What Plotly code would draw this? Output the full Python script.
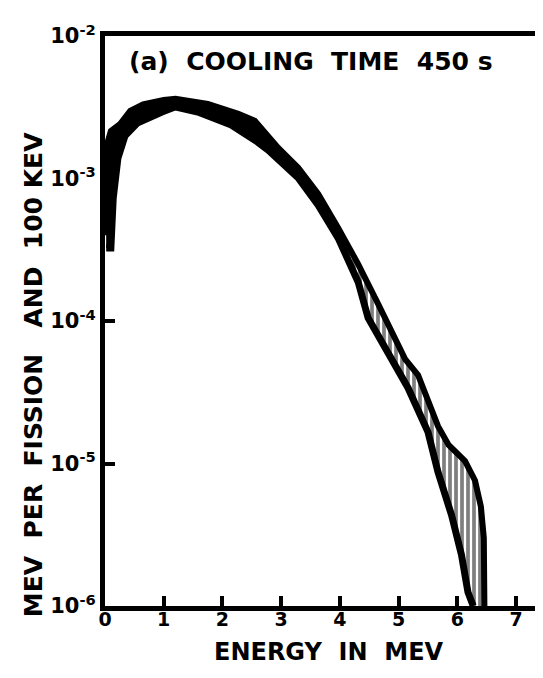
import plotly.graph_objects as go

# Upper (solid) curve: energy (MeV) and MeV per fission and 100 keV
upper_E = [0.02, 0.05, 0.10, 0.26, 0.43, 0.65, 1.00, 1.20, 1.75, 2.27, 2.55, 2.95, 3.29, 3.63,
           3.97, 4.31, 4.65, 5.11, 5.33, 5.50, 5.67, 5.85, 6.00, 6.13, 6.30, 6.40, 6.45, 6.46]
upper_V = [4.0e-4, 1.83e-3, 2.15e-3, 2.42e-3, 2.98e-3, 3.32e-3, 3.55e-3, 3.62e-3, 3.33e-3, 2.84e-3,
           2.54e-3, 1.64e-3, 1.19e-3, 7.8e-4, 4.5e-4, 2.51e-4, 1.32e-4, 5.4e-5, 4.18e-5, 2.79e-5,
           1.83e-5, 1.35e-5, 1.18e-5, 1.04e-5, 7.6e-6, 5.0e-6, 3.0e-6, 1.0e-6]

# Lower (dashed) curve
lower_E = [0.02, 0.10, 0.14, 0.22, 0.34, 0.55, 0.97, 1.19, 1.58, 2.15, 2.60, 2.78, 3.29, 3.63,
           3.97, 4.31, 4.48, 4.82, 5.16, 5.50, 5.67, 5.90, 6.07, 6.18, 6.27]
lower_V = [3.25e-4, 3.25e-4, 7.3e-4, 1.39e-3, 1.99e-3, 2.45e-3, 2.93e-3, 3.18e-3, 2.93e-3, 2.37e-3,
           1.80e-3, 1.58e-3, 1.01e-3, 6.5e-4, 3.82e-4, 1.88e-4, 1.05e-4, 5.8e-5, 3.39e-5, 1.66e-5,
           8.7e-6, 4.35e-6, 2.28e-6, 1.25e-6, 1.0e-6]

# energy where the shading between the curves changes from solid to hatched
hatch_start = 3.97

x_ticks = [0, 1, 2, 3, 4, 5, 6, 7]
y_ticks = [1e-6, 1e-5, 1e-4, 1e-3, 1e-2]
y_ticktext = ["10<sup>-6</sup>", "10<sup>-5</sup>", "10<sup>-4</sup>", "10<sup>-3</sup>", "10<sup>-2</sup>"]

FONT = "DejaVu Sans"


def split(E, V, lo_part):
    if lo_part:
        pts = [(e, v) for e, v in zip(E, V) if e <= hatch_start]
    else:
        pts = [(e, v) for e, v in zip(E, V) if e >= hatch_start]
    return [p[0] for p in pts], [p[1] for p in pts]


fig = go.Figure()
# solid black band at low energy
lx, ly = split(lower_E, lower_V, True)
ux, uy = split(upper_E, upper_V, True)
fig.add_trace(go.Scatter(x=lx, y=ly, mode="lines", line=dict(color="black", width=0),
                         showlegend=False))
fig.add_trace(go.Scatter(x=ux, y=uy, mode="lines", fill="tonexty", fillcolor="black",
                         line=dict(color="black", width=0), showlegend=False))
# hatched band at high energy
lx, ly = split(lower_E, lower_V, False)
ux, uy = split(upper_E, upper_V, False)
fig.add_trace(go.Scatter(x=lx, y=ly, mode="lines", line=dict(color="black", width=0),
                         showlegend=False))
fig.add_trace(go.Scatter(x=ux, y=uy, mode="lines", fill="tonexty",
                         fillpattern=dict(shape="|", fgcolor="black", bgcolor="white",
                                          size=6, solidity=0.62),
                         line=dict(color="black", width=0), showlegend=False))
# the two curves on top
fig.add_trace(go.Scatter(x=upper_E, y=upper_V, mode="lines",
                         line=dict(color="black", width=6), showlegend=False))
fig.add_trace(go.Scatter(x=lower_E, y=lower_V, mode="lines",
                         line=dict(color="black", width=7), showlegend=False))

fig.update_layout(
    width=543, height=678,
    margin=dict(l=97, r=2, t=28, b=80),
    paper_bgcolor="white", plot_bgcolor="white",
    font=dict(family=FONT, color="black"),
    xaxis=dict(range=[0, 7.56], tickvals=x_ticks, ticktext=[f"<b>{v}</b>" for v in x_ticks],
               ticks="inside", ticklen=10, tickwidth=4, tickcolor="black",
               showline=True, linewidth=5, linecolor="black", mirror=True,
               ticklabelstandoff=-8,
               showgrid=False, zeroline=False, tickfont=dict(size=19, family=FONT)),
    yaxis=dict(type="log", range=[-6, -2], tickvals=y_ticks,
               ticktext=[f"<b>{t}</b>" for t in y_ticktext],
               ticks="inside", ticklen=10, tickwidth=4, tickcolor="black",
               showline=True, linewidth=5, linecolor="black", mirror=False,
               showgrid=False, zeroline=False, tickfont=dict(size=21, family=FONT)),
    shapes=[dict(type="line", xref="paper", yref="paper", x0=1, x1=1, y0=0, y1=1,
                 line=dict(color="black", width=1.5))],
    annotations=[
        dict(text="<b>(a)  COOLING  TIME  450 s</b>", xref="paper", yref="paper",
             x=0.465, y=0.955, xanchor="center", yanchor="middle", showarrow=False,
             font=dict(size=25, family=FONT)),
        dict(text="<b>MEV  PER  FISSION   AND  100 KEV</b>", xref="paper", yref="paper",
             x=-0.162, y=0.405, xanchor="center", yanchor="middle", textangle=-90,
             showarrow=False, font=dict(size=25, family=FONT)),
        dict(text="<b>ENERGY  IN  MEV</b>", xref="paper", yref="paper",
             x=0.505, y=-0.08, xanchor="center", yanchor="middle",
             showarrow=False, font=dict(size=24, family=FONT)),
    ],
)

fig.write_html("out.html")
